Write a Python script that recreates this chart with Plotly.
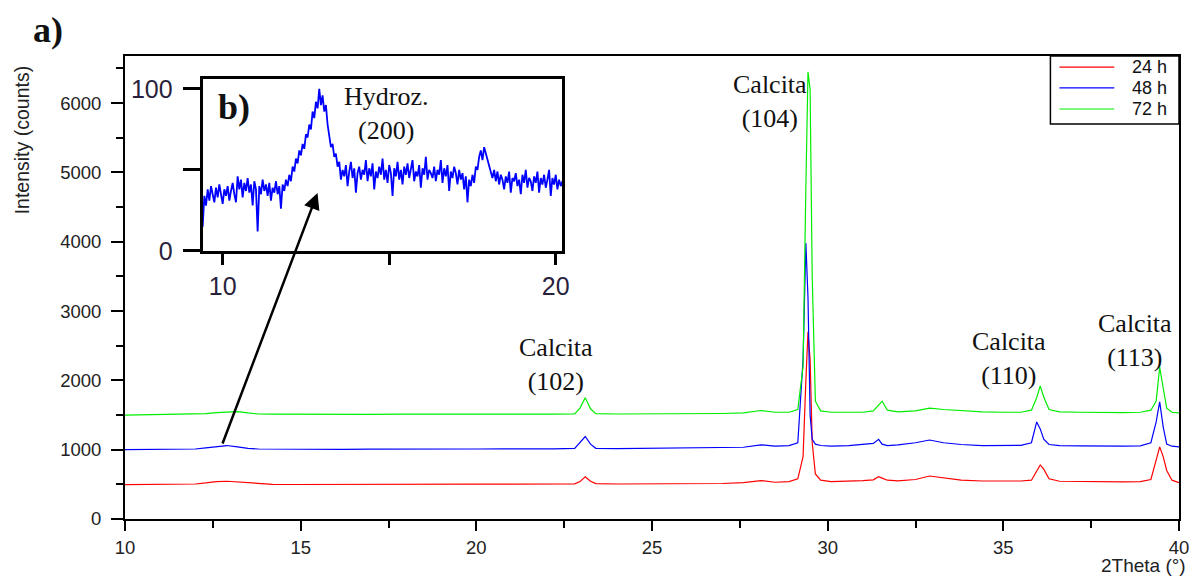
import plotly.graph_objects as go

# ---------------- data ----------------
two_theta = [10.0, 10.5, 11.0, 11.5, 12.0, 12.3, 12.6, 12.9, 13.2, 13.5, 13.8, 14.2, 14.8, 15.5,
             16.2, 17.0, 17.8, 18.5, 19.2, 20.0, 20.8, 21.5, 22.2, 22.8, 22.95, 23.1, 23.25, 23.4,
             24.0, 24.8, 25.5, 26.2, 27.0, 27.6, 28.1, 28.5, 28.9, 29.15, 29.3, 29.38, 29.44, 29.5,
             29.56, 29.65, 29.8, 30.1, 30.6, 31.0, 31.3, 31.45, 31.55, 31.7, 32.0, 32.5, 32.9, 33.3,
             33.8, 34.4, 35.0, 35.5, 35.8, 35.95, 36.05, 36.15, 36.3, 36.6, 37.2, 37.8, 38.4, 38.9,
             39.2, 39.35, 39.45, 39.55, 39.65, 39.8, 40.0]

counts_24h = [495, 497, 496, 500, 505, 520, 540, 545, 535, 515, 505, 500, 498, 500,
              499, 503, 500, 502, 500, 503, 502, 504, 503, 508, 540, 610, 545, 510,
              505, 507, 506, 508, 512, 525, 555, 530, 540, 580, 900, 2000, 2700, 2300,
              1100, 650, 560, 540, 545, 555, 565, 610, 590, 560, 550, 570, 620, 590,
              560, 548, 545, 548, 560, 700, 780, 720, 580, 545, 540, 535, 535, 540,
              570, 850, 1040, 900, 700, 560, 525]

counts_48h = [1000, 1002, 998, 1005, 1010, 1025, 1045, 1060, 1040, 1018, 1010, 1008, 1005, 1006,
              1004, 1008, 1006, 1010, 1008, 1010, 1012, 1010, 1012, 1020, 1100, 1190, 1080, 1020,
              1015, 1018, 1020, 1022, 1025, 1035, 1070, 1050, 1060, 1100, 2300, 3980, 3200, 1500,
              1150, 1080, 1060, 1050, 1060, 1075, 1090, 1150, 1080, 1060, 1070, 1100, 1140, 1100,
              1075, 1060, 1060, 1062, 1100, 1400, 1300, 1150, 1075, 1060, 1055, 1050, 1050, 1055,
              1100, 1400, 1690, 1330, 1080, 1050, 1040]

counts_72h = [1500, 1502, 1505, 1506, 1510, 1520, 1535, 1545, 1550, 1530, 1515, 1512, 1510, 1510,
              1512, 1510, 1512, 1510, 1512, 1510, 1512, 1512, 1512, 1515, 1600, 1750, 1590, 1520,
              1515, 1515, 1518, 1520, 1522, 1530, 1565, 1540, 1540, 1580, 2200, 4800, 6450, 6200,
              3500, 1700, 1560, 1540, 1535, 1540, 1560, 1640, 1700, 1570, 1545, 1560, 1600, 1580,
              1560, 1545, 1540, 1540, 1570, 1750, 1920, 1760, 1580, 1545, 1540, 1535, 1535, 1540,
              1570, 1700, 2190, 1890, 1600, 1540, 1530]

series_names = ["24 h", "48 h", "72 h"]
series_colors = ["#ff0000", "#0000ff", "#00ee00"]

inset_x = [9.40, 9.45, 9.50, 9.55, 9.60, 9.65, 9.70, 9.75, 9.80, 9.85,
           9.90, 9.95, 10.00, 10.05, 10.10, 10.15, 10.20, 10.25, 10.30, 10.35,
           10.40, 10.45, 10.50, 10.55, 10.60, 10.65, 10.70, 10.75, 10.80, 10.85,
           10.90, 10.95, 11.00, 11.05, 11.10, 11.15, 11.20, 11.25, 11.30, 11.35,
           11.40, 11.45, 11.50, 11.55, 11.60, 11.65, 11.70, 11.75, 11.80, 11.85,
           11.90, 11.95, 12.00, 12.05, 12.10, 12.15, 12.20, 12.25, 12.30, 12.35,
           12.40, 12.45, 12.50, 12.55, 12.60, 12.65, 12.70, 12.75, 12.80, 12.85,
           12.90, 12.95, 13.00, 13.05, 13.10, 13.15, 13.20, 13.25, 13.30, 13.35,
           13.40, 13.45, 13.50, 13.55, 13.60, 13.65, 13.70, 13.75, 13.80, 13.85,
           13.90, 13.95, 14.00, 14.05, 14.10, 14.15, 14.20, 14.25, 14.30, 14.35,
           14.40, 14.45, 14.50, 14.55, 14.60, 14.65, 14.70, 14.75, 14.80, 14.85,
           14.90, 14.95, 15.00, 15.05, 15.10, 15.15, 15.20, 15.25, 15.30, 15.35,
           15.40, 15.45, 15.50, 15.55, 15.60, 15.65, 15.70, 15.75, 15.80, 15.85,
           15.90, 15.95, 16.00, 16.05, 16.10, 16.15, 16.20, 16.25, 16.30, 16.35,
           16.40, 16.45, 16.50, 16.55, 16.60, 16.65, 16.70, 16.75, 16.80, 16.85,
           16.90, 16.95, 17.00, 17.05, 17.10, 17.15, 17.20, 17.25, 17.30, 17.35,
           17.40, 17.45, 17.50, 17.55, 17.60, 17.65, 17.70, 17.75, 17.80, 17.85,
           17.90, 17.95, 18.00, 18.05, 18.10, 18.15, 18.20, 18.25, 18.30, 18.35,
           18.40, 18.45, 18.50, 18.55, 18.60, 18.65, 18.70, 18.75, 18.80, 18.85,
           18.90, 18.95, 19.00, 19.05, 19.10, 19.15, 19.20, 19.25, 19.30, 19.35,
           19.40, 19.45, 19.50, 19.55, 19.60, 19.65, 19.70, 19.75, 19.80, 19.85,
           19.90, 19.95, 20.00, 20.05, 20.10, 20.15, 20.20]
inset_y = [15, 34, 28, 38, 31, 40, 35, 30, 39, 33, 41, 36, 29, 38, 34, 40, 31, 37, 42, 35,
           30, 46, 38, 44, 33, 42, 37, 45, 36, 41, 28, 43, 38, 12, 40, 35, 44, 37, 41, 34,
           42, 31, 39, 36, 43, 35, 40, 26, 41, 37, 44, 40, 47, 43, 52, 49, 57, 54, 62, 59,
           66, 63, 72, 70, 78, 75, 86, 82, 92, 88, 100, 90, 96, 86, 90, 78, 72, 64, 66, 58,
           60, 52, 55, 44, 50, 46, 53, 40, 49, 55, 45, 51, 36, 48, 52, 44, 50, 47, 56, 43,
           51, 46, 54, 38, 49, 45, 52, 47, 57, 44, 50, 42, 53, 48, 34, 51, 46, 55, 44, 50,
           41, 52, 47, 54, 45, 50, 56, 43, 49, 46, 53, 39, 51, 47, 58, 44, 50, 48, 45, 52,
           43, 50, 47, 56, 42, 51, 46, 53, 37, 49, 45, 52, 48, 41, 50, 44, 48, 38, 46, 30,
           44, 40, 47, 42, 52, 50, 58, 62, 56, 64, 60, 57, 52, 48, 45, 50, 43, 49, 41, 47,
           44, 38, 46, 42, 49, 36, 45, 43, 48, 40, 44, 35, 47, 42, 50, 39, 45, 43, 37, 46,
           42, 49, 36, 45, 41, 47, 39, 44, 50, 34, 45, 41, 47, 38, 44, 40, 43]

x_tick_vals = [10, 15, 20, 25, 30, 35, 40]
y_tick_vals = [0, 1000, 2000, 3000, 4000, 5000, 6000]
inset_x_ticks = [10, 15, 20]
inset_x_labels = ["10", "", "20"]
inset_y_ticks = [0, 50, 100]
inset_y_labels = ["0", "", "100"]

peak_labels = [
    ("Calcita<br>(102)", 22.27, 2222),
    ("Calcita<br>(104)", 28.35, 6025),
    ("Calcita<br>(110)", 35.17, 2316),
    ("Calcita<br>(113)", 38.75, 2569),
]

# ---------------- figure ----------------
SANS = "Liberation Sans, Arial, sans-serif"
SERIF = "Liberation Serif, Times New Roman, serif"

fig = go.Figure()
for name, ys, col in zip(series_names, [counts_24h, counts_48h, counts_72h], series_colors):
    fig.add_trace(go.Scatter(x=two_theta, y=ys, mode="lines", name=name, showlegend=False,
                             line=dict(color=col, width=1.2), xaxis="x", yaxis="y"))

fig.add_trace(go.Scatter(x=inset_x, y=inset_y, mode="lines", showlegend=False,
                         line=dict(color="#0000ff", width=1.8), xaxis="x2", yaxis="y2"))

fig.update_layout(
    width=1201, height=578,
    margin=dict(l=125, r=18, t=56, b=59),
    paper_bgcolor="white", plot_bgcolor="white",
    font=dict(family=SANS, size=18.5, color="#222222"),
    showlegend=False,
    xaxis=dict(range=[10, 40], tickvals=x_tick_vals, ticks="outside", ticklen=10, tickwidth=2,
               tickcolor="black", showline=True, linecolor="black", linewidth=2, mirror=True,
               showgrid=False, zeroline=False, ticklabelstandoff=1,
               minor=dict(dtick=2.5, ticks="outside", ticklen=7, tickwidth=2, tickcolor="black",
                          showgrid=False)),
    yaxis=dict(range=[0, 6680], tickvals=y_tick_vals, ticks="outside", ticklen=12, tickwidth=2,
               tickcolor="black", showline=True, linecolor="black", linewidth=2, mirror=True,
               showgrid=False, zeroline=False, ticklabelstandoff=6,
               minor=dict(dtick=500, ticks="outside", ticklen=7, tickwidth=2, tickcolor="black",
                          showgrid=False)),
    xaxis2=dict(domain=[0.0737, 0.415], anchor="y2", range=[9.4, 20.2],
                tickvals=inset_x_ticks, ticktext=inset_x_labels, ticks="outside", ticklen=11,
                tickwidth=3, tickcolor="black", showline=True, linecolor="black", linewidth=3,
                mirror=True, showgrid=False, zeroline=False, ticklabelstandoff=0,
                tickfont=dict(size=25, color="#2a1f3d")),
    yaxis2=dict(domain=[0.579, 0.950], anchor="x2", range=[0, 106],
                tickvals=inset_y_ticks, ticktext=inset_y_labels, ticks="outside", ticklen=17,
                tickwidth=3, tickcolor="black", showline=True, linecolor="black", linewidth=3,
                mirror=True, showgrid=False, zeroline=False, ticklabelstandoff=5,
                tickfont=dict(size=25, color="#2a1f3d")),
)

annotations = []
for text, px, py in peak_labels:
    annotations.append(dict(x=px, y=py, xref="x", yref="y", text=text, showarrow=False,
                            xanchor="center", yanchor="middle",
                            font=dict(family=SERIF, size=26, color="#111111")))
annotations += [
    dict(x=14.9, y=84.5, xref="x2", yref="y2", text="Hydroz.<br>(200)", showarrow=False,
         xanchor="center", yanchor="middle",
         font=dict(family=SERIF, size=26, color="#111111")),
    dict(x=10.33, y=89, xref="x2", yref="y2", text="<b>b)</b>", showarrow=False,
         xanchor="center", yanchor="middle",
         font=dict(family=SERIF, size=36, color="#111111")),
    dict(x=-0.0728, y=1.056, xref="paper", yref="paper", text="<b>a)</b>", showarrow=False,
         xanchor="center", yanchor="middle",
         font=dict(family=SERIF, size=36, color="#111111")),
    dict(x=-0.0974, y=0.8186, xref="paper", yref="paper", text="Intensity (counts)",
         textangle=-90, showarrow=False, xanchor="center", yanchor="middle",
         font=dict(family=SANS, size=19.5, color="#222222")),
    dict(x=1.0085, y=-0.0995, xref="paper", yref="paper", text="2Theta (°)", xanchor="right",
         yanchor="middle", showarrow=False, font=dict(family=SANS, size=19, color="#222222")),
    # arrow from the hump of the 48 h pattern to the inset
    dict(x=15.48, y=4704, ax=12.76, ay=1068, xref="x", yref="y", axref="x", ayref="y",
         text="", showarrow=True, arrowhead=2, arrowsize=1.3, arrowwidth=2.5,
         arrowcolor="black"),
]

# legend box (top-right), built from the series names and colours
shapes = [dict(type="rect", xref="paper", yref="paper", x0=0.878, x1=1.0, y0=0.853, y1=1.0,
               line=dict(color="black", width=1.5), fillcolor="white", layer="above")]
legend_rows = [0.976, 0.931, 0.8855]
for name, col, ly in zip(series_names, series_colors, legend_rows):
    shapes.append(dict(type="line", xref="paper", yref="paper", x0=0.8866, x1=0.9386,
                       y0=ly, y1=ly, line=dict(color=col, width=1.2), layer="above"))
    annotations.append(dict(x=0.9905, y=ly, xref="paper", yref="paper", text=name,
                            showarrow=False, xanchor="right", yanchor="middle",
                            font=dict(family=SANS, size=18, color="#111111")))

fig.update_layout(annotations=annotations, shapes=shapes)

fig.write_html("out.html", config={"displayModeBar": False},
               post_script="document.body.style.margin='0';")
